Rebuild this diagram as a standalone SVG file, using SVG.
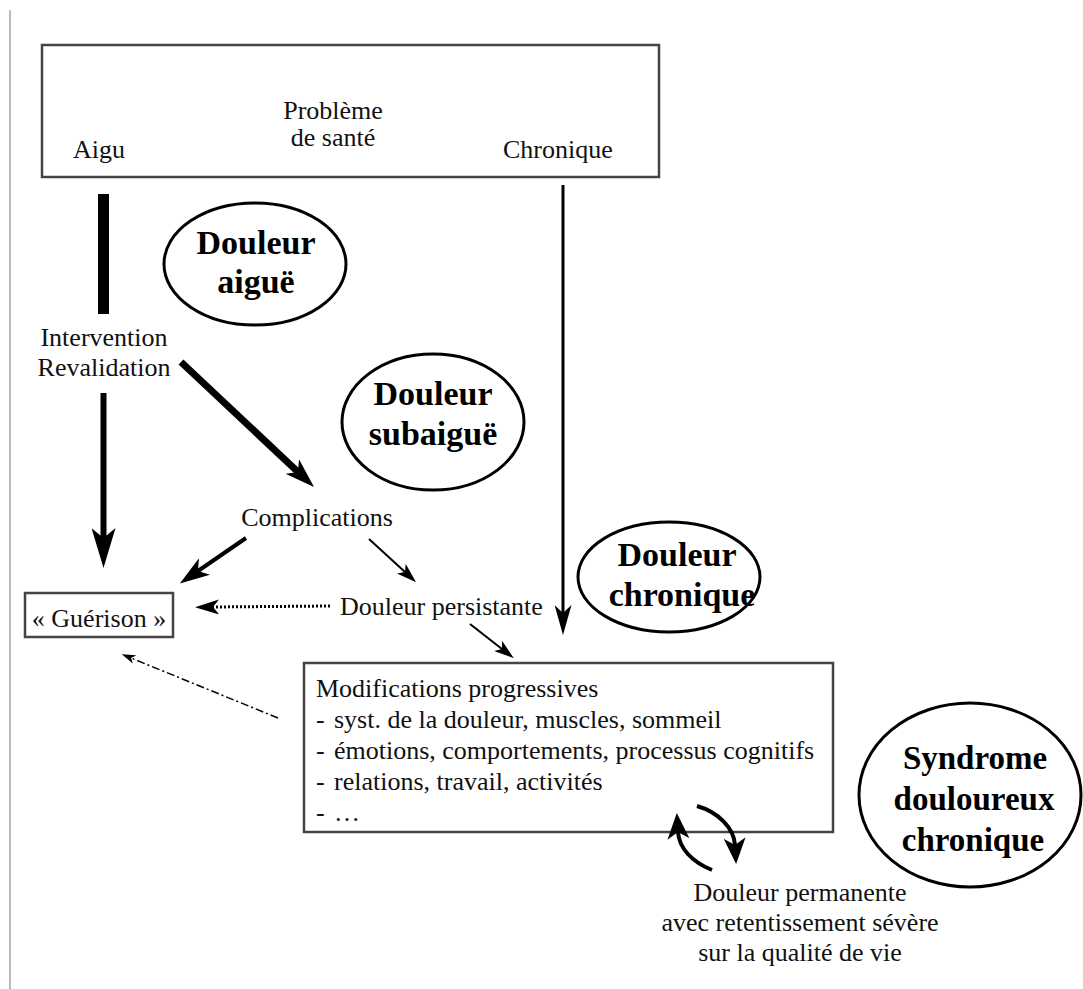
<svg xmlns="http://www.w3.org/2000/svg" width="1083" height="989" viewBox="0 0 1083 989">
<style>
.t{font-family:"Liberation Serif","Times New Roman",serif;font-size:26px;fill:#111}
.b{font-family:"Liberation Serif","Times New Roman",serif;font-size:34px;font-weight:bold;fill:#000;text-anchor:middle}
.box{fill:#fff;stroke:#444;stroke-width:2.5}
.ell{fill:#fff;stroke:#000;stroke-width:3}
.c{fill:none;stroke:#000}
</style>
<defs>
<marker id="mBig" markerUnits="userSpaceOnUse" viewBox="0 0 40 24" markerWidth="40" markerHeight="24" refX="10" refY="12" orient="auto"><path d="M0,0 L40,12 L0,24 L10,12 z" fill="#000"/></marker>
<marker id="mMed" markerUnits="userSpaceOnUse" viewBox="0 0 30 20" markerWidth="30" markerHeight="20" refX="8" refY="10" orient="auto"><path d="M0,0 L30,10 L0,20 L8,10 z" fill="#000"/></marker>
<marker id="mChr" markerUnits="userSpaceOnUse" viewBox="0 0 30 17" markerWidth="30" markerHeight="17" refX="8" refY="8.5" orient="auto"><path d="M0,0 L30,8.5 L0,17 L8,8.5 z" fill="#000"/></marker>
<marker id="mSmall" markerUnits="userSpaceOnUse" viewBox="0 0 20 13" markerWidth="20" markerHeight="13" refX="5" refY="6.5" orient="auto"><path d="M0,0 L20,6.5 L0,13 L5,6.5 z" fill="#000"/></marker>
<marker id="mDot" markerUnits="userSpaceOnUse" viewBox="0 0 24 15" markerWidth="24" markerHeight="15" refX="6" refY="7.5" orient="auto"><path d="M0,0 L24,7.5 L0,15 L6,7.5 z" fill="#000"/></marker>
<marker id="mTiny" markerUnits="userSpaceOnUse" viewBox="0 0 14 9" markerWidth="14" markerHeight="9" refX="4" refY="4.5" orient="auto"><path d="M0,0 L14,4.5 L0,9 L4,4.5 z" fill="#000"/></marker>
<marker id="mCirc" markerUnits="userSpaceOnUse" viewBox="0 0 26 22" markerWidth="26" markerHeight="22" refX="7" refY="11" orient="auto"><path d="M0,0 L26,11 L0,22 L7,11 z" fill="#000"/></marker>
</defs>
<rect width="1083" height="989" fill="#fff"/>
<line x1="10" y1="10" x2="10" y2="989" stroke="#bbb" stroke-width="2"/>

<g id="probleme">
<rect class="box" x="42" y="45" width="617" height="132"/>
<text class="t" x="333" y="119" text-anchor="middle">Problème</text>
<text class="t" x="333" y="146" text-anchor="middle">de santé</text>
<text class="t" x="73" y="158">Aigu</text>
<text class="t" x="503" y="158">Chronique</text>
</g>

<g id="intervention">
<text class="t" x="104" y="346" text-anchor="middle">Intervention</text>
<text class="t" x="104" y="376" text-anchor="middle">Revalidation</text>
</g>

<g id="douleur-aigue">
<ellipse class="ell" cx="255" cy="264" rx="91" ry="61"/>
<text class="b" x="256" y="254">Douleur</text>
<text class="b" x="256" y="293">aiguë</text>
</g>

<g id="douleur-subaigue">
<ellipse class="ell" cx="433" cy="422" rx="91" ry="68"/>
<text class="b" x="433" y="405">Douleur</text>
<text class="b" x="433" y="445">subaiguë</text>
</g>

<g id="complications">
<text class="t" x="317" y="526" text-anchor="middle">Complications</text>
</g>

<g id="guerison">
<rect class="box" x="25" y="593" width="148" height="44" stroke-width="2"/>
<text class="t" x="99" y="627" text-anchor="middle">« Guérison »</text>
</g>

<g id="persistante">
<text class="t" x="340" y="615">Douleur persistante</text>
</g>

<g id="douleur-chronique">
<ellipse class="ell" cx="669" cy="577" rx="91" ry="55"/>
<text class="b" x="677" y="566">Douleur</text>
<text class="b" x="682" y="606">chronique</text>
</g>

<g id="modifications">
<rect class="box" x="304" y="663" width="529" height="169"/>
<text class="t" x="316" y="697">Modifications progressives</text>
<text class="t" x="316" y="728">-<tspan x="334">syst. de la douleur, muscles, sommeil</tspan></text>
<text class="t" x="316" y="759">-<tspan x="334">émotions, comportements, processus cognitifs</tspan></text>
<text class="t" x="316" y="790">-<tspan x="334">relations, travail, activités</tspan></text>
<text class="t" x="316" y="821">-<tspan x="334">…</tspan></text>
</g>

<g id="syndrome">
<ellipse class="ell" cx="970" cy="795" rx="111" ry="92"/>
<text class="b" x="975" y="769" style="font-size:33px">Syndrome</text>
<text class="b" x="974" y="810" style="font-size:33px">douloureux</text>
<text class="b" x="973" y="851" style="font-size:33px">chronique</text>
</g>

<g id="permanente">
<text class="t" x="800" y="901" text-anchor="middle">Douleur permanente</text>
<text class="t" x="800" y="931" text-anchor="middle">avec retentissement sévère</text>
<text class="t" x="800" y="961" text-anchor="middle">sur la qualité de vie</text>
</g>

<g id="connectors">
<line class="c" x1="103.5" y1="194" x2="103.5" y2="314" stroke-width="11"/>
<line class="c" x1="103.5" y1="393" x2="103.5" y2="538" stroke-width="6" marker-end="url(#mBig)"/>
<line class="c" x1="181" y1="362" x2="298" y2="472" stroke-width="7" marker-end="url(#mMed)"/>
<line class="c" x1="246" y1="538" x2="198" y2="571" stroke-width="4" marker-end="url(#mMed)"/>
<line class="c" x1="369" y1="539" x2="405" y2="572" stroke-width="2" marker-end="url(#mSmall)"/>
<line class="c" x1="330" y1="606" x2="213" y2="607" stroke-width="3" stroke-dasharray="2,2" marker-end="url(#mDot)"/>
<line class="c" x1="470" y1="624" x2="502" y2="649" stroke-width="2" marker-end="url(#mSmall)"/>
<line class="c" x1="278" y1="718" x2="131" y2="658" stroke-width="1.5" stroke="#333" stroke-dasharray="8,3,2,3" marker-end="url(#mTiny)"/>
<line class="c" x1="563" y1="185" x2="563" y2="613" stroke-width="3" marker-end="url(#mChr)"/>
<path class="c" d="M712,870 C692,862 679,848 678,832" stroke-width="4" marker-end="url(#mCirc)"/>
<path class="c" d="M697,806 C718,812 734,828 735,845" stroke-width="4" marker-end="url(#mCirc)"/>
</g>
</svg>
